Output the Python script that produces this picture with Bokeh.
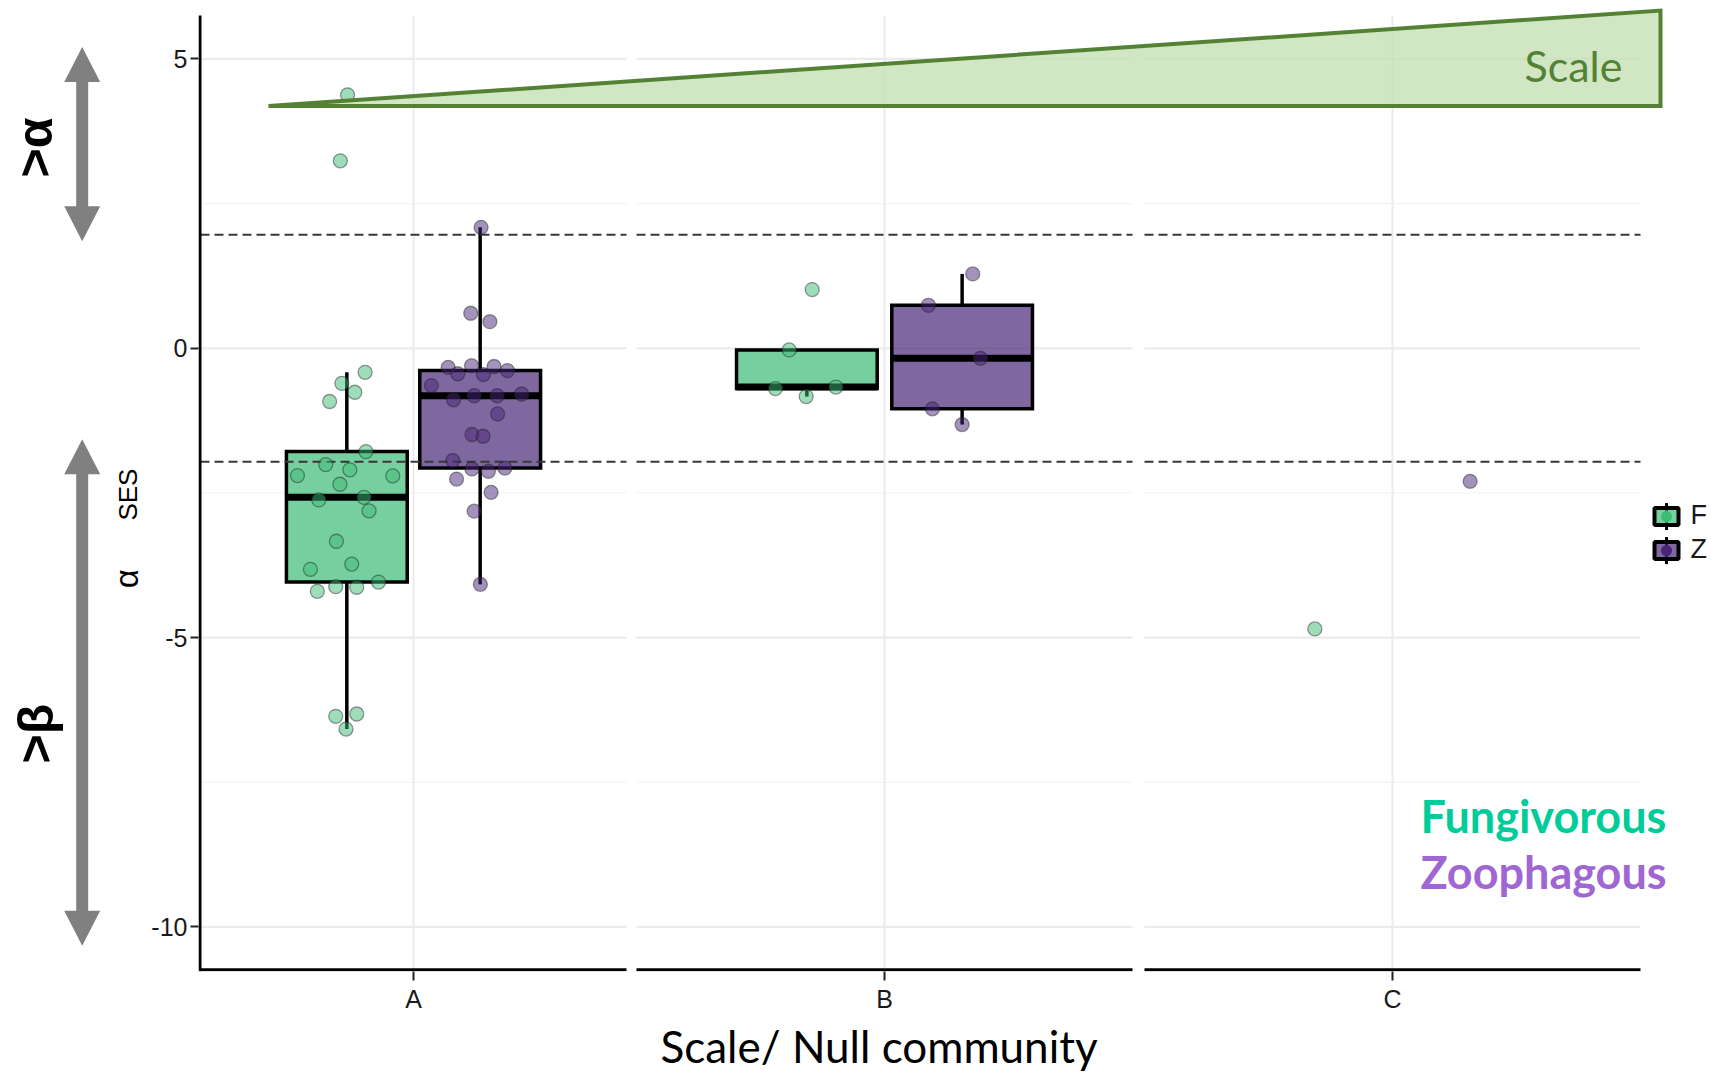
import numpy as np
from bokeh.plotting import figure
from bokeh.layouts import row
from bokeh.models import Range1d, FixedTicker, Title
from bokeh.core.properties import value
from bokeh.embed import file_html
from bokeh.resources import INLINE

# ---------------- data ----------------
scales = ["A", "B", "C"]
diets = ["F", "Z"]
diet_names = ["Fungivorous", "Zoophagous"]

# alpha SES values per scale / null community
ses_F_A = [4.38, 3.24, -0.415, -0.605, -0.76, -0.92, -1.785, -2.01, -2.10, -2.20,
           -2.205, -2.35, -2.575, -2.62, -2.81, -3.335, -3.73, -3.82, -4.04, -4.12,
           -4.13, -4.20, -6.32, -6.36, -6.58]
ses_Z_A = [2.09, 0.605, 0.46, -0.30, -0.315, -0.33, -0.385, -0.44, -0.455, -0.645,
           -0.79, -0.82, -0.82, -0.89, -1.135, -1.49, -1.52, -1.94, -2.07, -2.085,
           -2.125, -2.26, -2.49, -2.815, -4.08]
ses_F_B = [1.014, -0.028, -0.67, -0.696, -0.835]
ses_Z_B = [1.285, 0.743, -0.173, -1.047, -1.318]
ses_F_C = [-4.85]
ses_Z_C = [-2.30]

# horizontal jitter of each point (x-axis units)
jit_F_A = [0.7, -6.5, 18.3, -5, 8, -17.2, 19.1, -21.1, 3, -49.4, 45.9, -6.9, 17.2,
           -28, 22.2, -10.4, 4.9, -36.4, 31.7, -11.1, 9.9, -29.5, 9.9, -11.1, -0.8]
jit_Z_A = [0.9, -9.4, 9.7, -8.6, 13.9, -32, 27.3, -22.4, 3.2, -48.8, 41.5, -6, 17,
           -26.6, 17.4, -8.2, 2.9, -27.4, 24.7, -8.2, 8.2, -23.6, 10.9, -6, 0.2]
jit_F_B = [5.3, -17.7, 29, -31.4, -0.7]
jit_Z_B = [10.6, -33.7, 18.3, -29.7, 0]
jit_F_C = [0]
jit_Z_C = [0]

ses = {"F": {"A": ses_F_A, "B": ses_F_B, "C": ses_F_C},
       "Z": {"A": ses_Z_A, "B": ses_Z_B, "C": ses_Z_C}}
jit = {"F": {"A": jit_F_A, "B": jit_F_B, "C": jit_F_C},
       "Z": {"A": jit_Z_A, "B": jit_Z_B, "C": jit_Z_C}}

y_ticks = [-10, -5, 0, 5]
y_tick_labels = ["-10", "-5", "0", "5"]
y_minor = [-7.5, -2.5, 2.5]
threshold = 1.96

# ---------------- styling / layout ----------------
W, H = 1711, 1074
LEFT_W = 148           # strip holding the arrows and the y title
FRAME_LEFT = 198
BOTTOM = 103
Y_START, Y_END = -10.77, 6.01
PX = (H - BOTTOM) / (Y_END - Y_START)   # pixels per y unit

panel_span = {"A": (200, 626), "B": (636, 1132), "C": (1144, 1640)}
PANEL_TOP, PANEL_BOTTOM = 5.75, -10.74
DODGE = 0.1565      # fraction of the panel width
HALF_BOX = 0.1418

col = {"F": "#3CBB75", "Z": "#482677"}
name_col = ["#00CC99", "#A066D3"]
GRID = "#EBEBEB"
GREEN_DARK = "#548235"
ARROW = "#808080"
AXIS_FONT_NAME = "Liberation Sans"
PPT_FONT_NAME = "Lato"
AXIS_FONT = value(AXIS_FONT_NAME)
PPT_FONT = value(PPT_FONT_NAME)

yr = Range1d(Y_START, Y_END)

p = figure(width=W - LEFT_W, height=H, x_range=Range1d(FRAME_LEFT, W), y_range=yr,
           output_backend="svg", toolbar_location=None,
           min_border_left=FRAME_LEFT - LEFT_W, min_border_right=0,
           min_border_top=0, min_border_bottom=BOTTOM)
p.outline_line_color = None
p.background_fill_color = "white"
p.border_fill_color = "white"
p.xgrid.visible = False
p.ygrid.visible = False

centers = {s: int(round(sum(panel_span[s]) / 2)) for s in scales}

# y axis: ticks and labels from bokeh, line drawn below so it stops at the panel top
p.yaxis.ticker = FixedTicker(ticks=y_ticks)
p.yaxis.major_label_overrides = dict(zip(y_ticks, y_tick_labels))
p.yaxis.axis_line_color = None
p.yaxis.major_tick_out = 8
p.yaxis.major_tick_in = 0
p.yaxis.major_tick_line_width = 2
p.yaxis.major_tick_line_color = "#222222"
p.yaxis.minor_tick_line_color = None
p.yaxis.major_label_standoff = 3
p.yaxis.major_label_text_font = AXIS_FONT_NAME
p.yaxis.major_label_text_font_size = "25px"
p.yaxis.major_label_text_color = "#1a1a1a"

# x axis: one tick per scale
p.xaxis.ticker = FixedTicker(ticks=[centers[s] for s in scales])
p.xaxis.major_label_overrides = {centers[s]: s for s in scales}
p.xaxis.axis_line_color = None
p.xaxis.major_tick_out = 9
p.xaxis.major_tick_in = 0
p.xaxis.major_tick_line_width = 2
p.xaxis.major_tick_line_color = "#222222"
p.xaxis.minor_tick_line_color = None
p.xaxis.major_label_standoff = 4
p.xaxis.major_label_text_font = AXIS_FONT_NAME
p.xaxis.major_label_text_font_size = "25px"
p.xaxis.major_label_text_color = "#1a1a1a"

p.add_layout(Title(text="Scale/ Null community", align="left", offset=462,
                   standoff=5, text_font=PPT_FONT_NAME, text_font_size="44px",
                   text_font_style="normal", text_color="black"), "below")

lefts = [panel_span[s][0] for s in scales]
rights = [panel_span[s][1] for s in scales]

# panel grids (broken between the facets)
for yv in y_minor:
    p.segment(x0=lefts, x1=rights, y0=[yv] * 3, y1=[yv] * 3,
              line_color="#F3F3F3", line_width=1.3)
for yv in y_ticks:
    p.segment(x0=lefts, x1=rights, y0=[yv] * 3, y1=[yv] * 3,
              line_color=GRID, line_width=2.2)
p.segment(x0=[centers[s] for s in scales], x1=[centers[s] for s in scales],
          y0=[PANEL_TOP] * 3, y1=[PANEL_BOTTOM] * 3, line_color=GRID, line_width=2)


def box_stats(vals):
    v = np.asarray(vals, dtype=float)
    q1, med, q3 = np.percentile(v, [25, 50, 75])
    iqr = q3 - q1
    lo = v[v >= q1 - 1.5 * iqr].min()
    hi = v[v <= q3 + 1.5 * iqr].max()
    return q1, med, q3, lo, hi


pts = []
for s in scales:
    left, right = panel_span[s]
    w = right - left
    for k, d in enumerate(diets):
        xc = centers[s] + (2 * k - 1) * DODGE * w
        vals = ses[d][s]
        pts.append((d, [xc + j for j in jit[d][s]], vals))
        if len(vals) < 2:
            continue
        q1, med, q3, lo, hi = box_stats(vals)
        hb = HALF_BOX * w
        p.segment(x0=[xc, xc], x1=[xc, xc], y0=[q3, q1], y1=[hi, lo],
                  line_color="black", line_width=3.5)
        p.quad(left=[xc - hb], right=[xc + hb], top=[q3], bottom=[q1],
               fill_color=col[d], fill_alpha=0.7, line_color="black",
               line_width=3.5, line_join="miter")
        p.segment(x0=[xc - hb], x1=[xc + hb], y0=[med], y1=[med],
                  line_color="black", line_width=7)

# +/- 1.96 significance thresholds
for yv in (threshold, -threshold):
    p.segment(x0=lefts, x1=rights, y0=[yv] * 3, y1=[yv] * 3,
              line_color="#383838", line_width=2, line_dash="9 5")

# jittered observations
for d, xs, ys in pts:
    p.scatter(x=xs, y=ys, size=14, fill_color=col[d], fill_alpha=0.5,
              line_color="#222222", line_alpha=0.45, line_width=1.3)

# axis lines
p.segment(x0=lefts, x1=rights, y0=[PANEL_BOTTOM] * 3, y1=[PANEL_BOTTOM] * 3,
          line_color="black", line_width=3)
p.segment(x0=[FRAME_LEFT + 1.5], x1=[FRAME_LEFT + 1.5], y0=[Y_START + 0.005],
          y1=[PANEL_TOP], line_color="black", line_width=3)

# spatial scale wedge
p.patch(x=[268, 1660, 1660], y=[4.185, 5.835, 4.185], fill_color="#C5E0B4",
        fill_alpha=0.8, line_color=GREEN_DARK, line_width=4, line_join="miter")
p.text(x=[1524], y=[4.88], text=["Scale"], text_font=PPT_FONT,
       text_font_size="43px", text_color=GREEN_DARK, text_baseline="alphabetic")

# legend keys
key_y = [-2.908, -3.496]
key_x = 1666
stub = 13.5 / PX
p.segment(x0=[key_x] * 2, x1=[key_x] * 2, y0=[ky + stub for ky in key_y],
          y1=[ky - stub for ky in key_y], line_color="black", line_width=3)
p.rect(x=[key_x] * 2, y=key_y, width=24, height=17, width_units="screen",
       height_units="screen", fill_color=[col[d] for d in diets], fill_alpha=0.7,
       line_color="black", line_width=4)
p.scatter(x=[key_x] * 2, y=key_y, size=11, fill_color=[col[d] for d in diets],
          line_color=None)
p.text(x=[1690] * 2, y=[ky + 0.02 for ky in key_y], text=diets, text_font=AXIS_FONT,
       text_font_size="27px", text_color="#1a1a1a", text_baseline="middle")

# group names
p.text(x=[1420] * 2, y=[-8.083, -9.051], text=diet_names, text_color=name_col,
       text_font=PPT_FONT, text_font_style="bold", text_font_size="45px",
       text_baseline="alphabetic")

# ---------------- left strip: direction arrows and y title ----------------
q = figure(width=LEFT_W, height=H, x_range=Range1d(0, LEFT_W), y_range=yr,
           x_axis_type=None, y_axis_type=None, output_backend="svg",
           toolbar_location=None, min_border_left=0, min_border_right=0,
           min_border_top=0, min_border_bottom=BOTTOM)
q.outline_line_color = None
q.background_fill_color = "white"
q.border_fill_color = "white"


def double_arrow(xc, y_top, y_bot, shaft=6, head=18, head_len=35):
    hl = head_len / PX
    xs = [xc, xc + head, xc + shaft, xc + shaft, xc + head, xc,
          xc - head, xc - shaft, xc - shaft, xc - head]
    ys = [y_top, y_top - hl, y_top - hl, y_bot + hl, y_bot + hl, y_bot,
          y_bot + hl, y_bot + hl, y_top - hl, y_top - hl]
    return xs, ys


for yt, yb in [(5.205, 1.851), (-1.574, -10.327)]:
    ax, ay = double_arrow(81.7, yt, yb)
    q.patch(x=ax, y=ay, fill_color=ARROW, line_color=None)

q.text(x=[34, 35], y=[3.47, -6.66], text=[">α", ">β"], angle=np.pi / 2,
       text_align="center", text_baseline="middle", text_font=AXIS_FONT,
       text_font_style="bold", text_font_size="50px", text_color="black")
q.text(x=[127], y=[-2.528], text=["SES"], angle=np.pi / 2, text_align="center",
       text_baseline="middle", text_font=AXIS_FONT, text_font_size="26px",
       text_color="black")
q.text(x=[126], y=[-3.98], text=["α"], angle=np.pi / 2, text_align="center",
       text_baseline="middle", text_font=AXIS_FONT, text_font_size="33px",
       text_color="black")

layout = row(q, p)
open("out.html", "w").write(file_html(layout, INLINE))
